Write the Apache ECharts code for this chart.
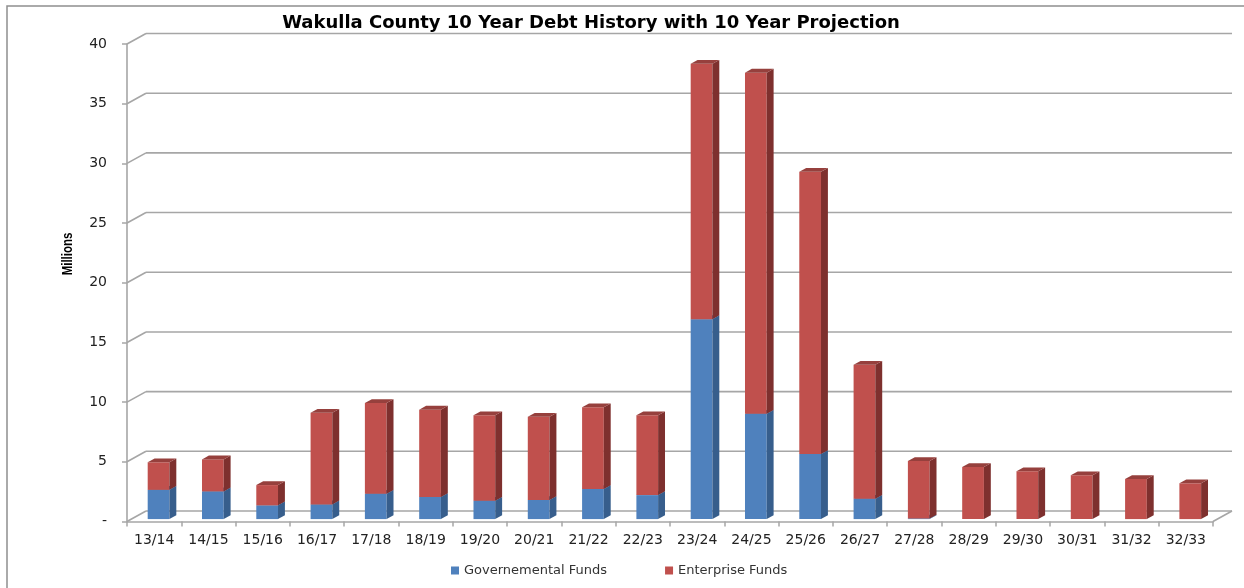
<!DOCTYPE html>
<html>
<head>
<meta charset="utf-8">
<script src="https://cdn.jsdelivr.net/npm/echarts@6/dist/echarts.min.js"></script>
<style>
html,body{margin:0;padding:0;background:#fff;}
#chart{width:1244px;height:588px;}
</style>
</head>
<body>
<div id="chart"></div>
<script>
// ---- data (millions) ----
var categories = ['13/14','14/15','15/16','16/17','17/18','18/19','19/20','20/21','21/22','22/23',
                  '23/24','24/25','25/26','26/27','27/28','28/29','29/30','30/31','31/32','32/33'];
var governmental = [2.45, 2.32, 1.15, 1.23, 2.12, 1.85, 1.54, 1.60, 2.52, 2.01,
                    16.75, 8.83, 5.45, 1.70, 0.05, 0, 0, 0, 0, 0];
var enterprise = [2.31, 2.68, 1.70, 7.67, 7.61, 7.32, 7.16, 6.98, 6.85, 6.69,
                  21.40, 28.57, 23.65, 11.22, 4.82, 4.36, 4.00, 3.67, 3.36, 3.00];
var yTicks = [0, 5, 10, 15, 20, 25, 30, 35, 40];

// ---- pseudo-3D geometry (pixels) ----
var WALL_DX = 19, WALL_DY = -10.5;   // front plane -> back wall
var FX = 4.4, FY = -2.4;             // front plane -> bar front face
var DX = 6.9, DY = -3.8;             // bar depth
var GRID_COLOR = '#a6a6a6';
var FONT = 'DejaVu Sans';

var govData = categories.map(function (c, i) { return [i, 0, governmental[i]]; });
var entData = categories.map(function (c, i) { return [i, governmental[i], governmental[i] + enterprise[i]]; });

function barRenderer(front, side, top) {
  return function (params, api) {
    var i = api.value(0), lo = api.value(1), hi = api.value(2);
    if (!(hi > lo)) return null;
    var bw = api.size([1, 0])[0] * 0.4;
    var cLo = api.coord([i, lo]), cHi = api.coord([i, hi]);
    var x = cLo[0] - bw / 2 + FX, yb = cLo[1] + FY, yt = cHi[1] + FY;
    return {
      type: 'group',
      children: [
        { type: 'rect', shape: { x: x, y: yt, width: bw, height: yb - yt }, style: { fill: front } },
        { type: 'polygon', shape: { points: [[x + bw, yt], [x + bw + DX, yt + DY], [x + bw + DX, yb + DY], [x + bw, yb]] }, style: { fill: side } },
        { type: 'polygon', shape: { points: [[x, yt], [x + bw, yt], [x + bw + DX, yt + DY], [x + DX, yt + DY]] }, style: { fill: top } }
      ]
    };
  };
}

function wallRenderer(params, api) {
  var cs = params.coordSys;
  var v = api.value(0);
  var y = api.coord([0, v])[1];
  var x0 = cs.x, x1 = cs.x + cs.width;
  var st = { stroke: GRID_COLOR, lineWidth: 1.6 };
  var ch = [
    { type: 'line', shape: { x1: x0, y1: y, x2: x0 + WALL_DX, y2: y + WALL_DY }, style: st },
    { type: 'line', shape: { x1: x0 + WALL_DX, y1: y + WALL_DY, x2: x1 + WALL_DX, y2: y + WALL_DY }, style: st }
  ];
  if (v === 0) {
    ch.push({ type: 'line', shape: { x1: x1, y1: y, x2: x1 + WALL_DX, y2: y + WALL_DY }, style: st });
  }
  return { type: 'group', children: ch };
}

var chart = echarts.init(document.getElementById('chart'), null, { renderer: 'canvas' });
chart.setOption({
  animation: false,
  backgroundColor: '#ffffff',
  title: {
    text: 'Wakulla County 10 Year Debt History with 10 Year Projection',
    left: 586, top: 9, textAlign: 'center',
    textStyle: { fontFamily: FONT, fontWeight: 'bold', fontSize: 18, color: '#000' }
  },
  legend: {
    bottom: 6, left: 446, itemGap: 58,
    itemWidth: 8, itemHeight: 8, icon: 'rect',
    textStyle: { fontFamily: FONT, fontSize: 13, color: '#333' },
    data: ['Governemental Funds', 'Enterprise Funds']
  },
  graphic: [
    { type: 'polyline', shape: { points: [[7, 588], [7, 6], [1244, 6]] }, style: { stroke: '#8f8f8f', lineWidth: 1.5, fill: null }, z: 100 },
    { type: 'text', x: 68, y: 254, rotation: Math.PI / 2, scaleX: 0.82, z: 100,
      style: { text: 'Millions', fontFamily: 'Liberation Sans', fontWeight: 'bold', fontSize: 14, fill: '#000',
               textAlign: 'center', textVerticalAlign: 'middle' } }
  ],
  grid: { left: 127, right: 31, top: 44, bottom: 66.5 },
  xAxis: {
    type: 'category', data: categories, boundaryGap: true,
    axisLine: { lineStyle: { color: GRID_COLOR, width: 1.6 } },
    axisTick: { show: true, length: 5, lineStyle: { color: GRID_COLOR, width: 1.5 } },
    axisLabel: { interval: 0, hideOverlap: false, margin: 12, fontFamily: FONT, fontSize: 14, color: '#222' },
    splitLine: { show: false }
  },
  yAxis: {
    type: 'value', min: 0, max: 40, interval: 5,
    axisLine: { show: true, lineStyle: { color: GRID_COLOR, width: 1.6 } },
    axisTick: { show: true, length: 5, lineStyle: { color: GRID_COLOR, width: 1.5 } },
    axisLabel: { margin: 20, fontFamily: FONT, fontSize: 14, color: '#222',
      formatter: function (v) { return v === 0 ? '-' : String(v); } },
    splitLine: { show: false }
  },
  series: [
    { type: 'custom', name: 'wall', silent: true, z: 1, renderItem: wallRenderer,
      data: yTicks.map(function (v) { return [v]; }), encode: { y: 0 } },
    { type: 'custom', name: 'Governemental Funds', z: 5, renderItem: barRenderer('#4f81bd', '#375e8c', '#3f6a9e'),
      itemStyle: { color: '#4f81bd' }, data: govData, encode: { x: 0, y: [1, 2] } },
    { type: 'custom', name: 'Enterprise Funds', z: 6, renderItem: barRenderer('#c0504d', '#7e302e', '#96403d'),
      itemStyle: { color: '#c0504d' }, data: entData, encode: { x: 0, y: [1, 2] } }
  ]
});
</script>
</body>
</html>
